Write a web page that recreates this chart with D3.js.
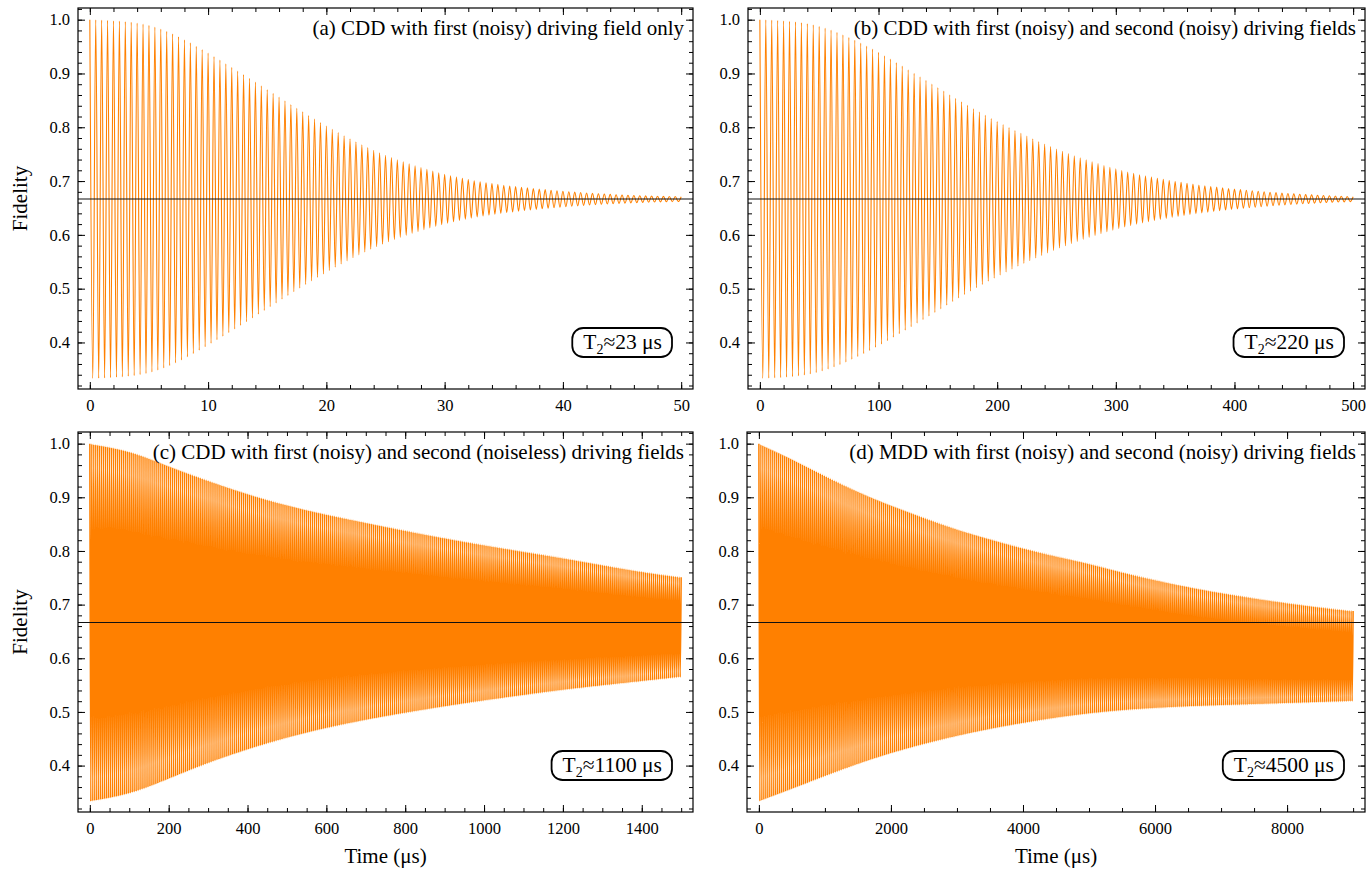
<!DOCTYPE html>
<html>
<head>
<meta charset="utf-8">
<script src="https://cdn.jsdelivr.net/npm/d3@7"></script>
<style>
    body { margin: 0; background: #fff; }
    text { font-family: "Liberation Serif", "DejaVu Serif", serif; fill: #000; }
</style>
</head>
<body>
<div id="chart"></div>
<script>
// ---- data ----
var titles = [
    "(a) CDD with first (noisy) driving field only",
    "(b) CDD with first (noisy) and second (noisy) driving fields",
    "(c) CDD with first (noisy) and second (noiseless) driving fields",
    "(d) MDD with first (noisy) and second (noisy) driving fields"
];
var t2Values = ["23", "220", "1100", "4500"];

// oscillation period and total time (μs) for each panel
var periods = [0.5, 5, 5, 30];
var durations = [50, 500, 1500, 9000];

// envelope of the oscillation (upper / lower turning points), evenly spaced in time
var envTimeA = [0, 2.5, 5, 7.5, 10, 12.5, 15, 17.5, 20, 22.5, 25, 27.5, 30, 32.5, 35, 37.5, 40, 42.5, 45, 47.5, 50];
var upperA = [1.000, 0.998, 0.992, 0.970, 0.938, 0.905, 0.870, 0.835, 0.802, 0.772, 0.747, 0.728, 0.712, 0.700, 0.692, 0.686, 0.681, 0.677, 0.674, 0.672, 0.671];
var lowerA = [0.333, 0.335, 0.341, 0.363, 0.395, 0.428, 0.463, 0.498, 0.531, 0.561, 0.586, 0.605, 0.621, 0.633, 0.641, 0.647, 0.652, 0.656, 0.659, 0.661, 0.662];

var envTimeB = [0, 25, 50, 75, 100, 125, 150, 175, 200, 225, 250, 275, 300, 325, 350, 375, 400, 425, 450, 475, 500];
var upperB = [1.000, 0.998, 0.990, 0.968, 0.940, 0.907, 0.874, 0.840, 0.810, 0.783, 0.759, 0.739, 0.722, 0.709, 0.699, 0.691, 0.685, 0.680, 0.676, 0.673, 0.671];
var lowerB = [0.333, 0.335, 0.343, 0.365, 0.393, 0.426, 0.459, 0.493, 0.523, 0.550, 0.574, 0.594, 0.611, 0.624, 0.634, 0.642, 0.648, 0.653, 0.657, 0.660, 0.662];

var envTimeC = [0, 100, 200, 300, 400, 500, 600, 700, 800, 900, 1000, 1100, 1200, 1300, 1400, 1500];
var upperC = [1.000, 0.988, 0.958, 0.931, 0.906, 0.885, 0.868, 0.853, 0.838, 0.824, 0.811, 0.799, 0.787, 0.774, 0.761, 0.751];
var lowerC = [0.333, 0.345, 0.375, 0.405, 0.430, 0.452, 0.470, 0.485, 0.498, 0.510, 0.521, 0.531, 0.541, 0.549, 0.557, 0.565];

var envTimeD = [0, 500, 1000, 1500, 2000, 2500, 3000, 3500, 4000, 4500, 5000, 5500, 6000, 6500, 7000, 7500, 8000, 8500, 9000];
var upperD = [1.000, 0.972, 0.940, 0.910, 0.885, 0.862, 0.840, 0.822, 0.805, 0.790, 0.777, 0.760, 0.746, 0.733, 0.722, 0.712, 0.703, 0.695, 0.688];
var lowerD = [0.333, 0.356, 0.380, 0.403, 0.423, 0.440, 0.455, 0.468, 0.479, 0.489, 0.497, 0.503, 0.507, 0.510, 0.512, 0.514, 0.516, 0.518, 0.520];

var steadyFidelity = 0.6667;

// tick labels
var xTicksA = [0, 10, 20, 30, 40, 50];
var xTicksB = [0, 100, 200, 300, 400, 500];
var xTicksC = [0, 200, 400, 600, 800, 1000, 1200, 1400];
var xTicksD = [0, 2000, 4000, 6000, 8000];
var yTicks = [0.4, 0.5, 0.6, 0.7, 0.8, 0.9, 1.0];

// ---- layout ----
var svgWidth = 1371;
var svgHeight = 869;

var svg = d3.select("#chart").append("svg")
    .attr("width", svgWidth)
    .attr("height", svgHeight);

var panels = [
    { left: 78, top: 8, width: 615, height: 381, xDomain: [-1, 51], minor: 2, ticks: xTicksA, env: [envTimeA, upperA, lowerA], lineWidth: 1.1, yLabel: true, xLabel: false },
    { left: 748, top: 8, width: 617, height: 381, xDomain: [-10, 510], minor: 20, ticks: xTicksB, env: [envTimeB, upperB, lowerB], lineWidth: 1.1, yLabel: false, xLabel: false },
    { left: 78, top: 432, width: 615, height: 380, xDomain: [-30, 1530], minor: 50, ticks: xTicksC, env: [envTimeC, upperC, lowerC], lineWidth: 1.5, yLabel: true, xLabel: true },
    { left: 747, top: 432, width: 618, height: 380, xDomain: [-180, 9180], minor: 500, ticks: xTicksD, env: [envTimeD, upperD, lowerD], lineWidth: 1.5, yLabel: false, xLabel: true }
];

var yDomain = [0.3135, 1.0217];
var majorLen = 7, minorLen = 4;

panels.forEach(function(p, i) {
    var g = svg.append("g").attr("transform", `translate(${p.left}, ${p.top})`);

    var xScale = d3.scaleLinear().domain(p.xDomain).range([0, p.width]);
    var yScale = d3.scaleLinear().domain(yDomain).range([p.height, 0]);

    // smooth envelope lookup along time
    var tMax = p.env[0][p.env[0].length - 1];
    var upCurve = d3.interpolateBasis(p.env[1]);
    var loCurve = d3.interpolateBasis(p.env[2]);

    // turning points of the oscillation: max, min, max, ...
    var half = periods[i] / 2;
    var n = Math.round(durations[i] / half);
    var turns = d3.range(n + 1).map(function(k) {
        var t = k * half;
        return { t: t, f: k % 2 === 0 ? upCurve(t / tMax) : loCurve(t / tMax) };
    });

    var line = d3.line()
        .x(d => xScale(d.t))
        .y(d => yScale(d.f))
        .curve(d3.curveMonotoneX);

    g.append("path")
        .datum(turns)
        .attr("d", line)
        .attr("fill", "none")
        .attr("stroke", "#ff8000")
        .attr("stroke-width", p.lineWidth);

    // 2/3 reference line
    g.append("line")
        .attr("x1", 0).attr("x2", p.width)
        .attr("y1", yScale(steadyFidelity)).attr("y2", yScale(steadyFidelity))
        .attr("stroke", "#111")
        .attr("stroke-width", 1.1);

    // ticks, all pointing inward
    var xMinor = d3.range(0, p.xDomain[1], p.minor).filter(v => v >= p.xDomain[0]);
    var yMinor = d3.range(16, 52).map(k => +(k * 0.02).toFixed(2));

    g.append("g").attr("class", "axis")
        .attr("transform", `translate(0, ${p.height})`)
        .call(d3.axisBottom(xScale).tickValues(p.ticks).tickSizeInner(-majorLen).tickSizeOuter(0).tickPadding(10).tickFormat(d3.format("d")));
    g.append("g").attr("class", "axis")
        .attr("transform", `translate(0, ${p.height})`)
        .call(d3.axisBottom(xScale).tickValues(xMinor).tickSizeInner(-minorLen).tickSizeOuter(0).tickFormat(""));
    g.append("g").attr("class", "axis")
        .call(d3.axisTop(xScale).tickValues(p.ticks).tickSizeInner(-majorLen).tickSizeOuter(0).tickFormat(""));
    g.append("g").attr("class", "axis")
        .call(d3.axisTop(xScale).tickValues(xMinor).tickSizeInner(-minorLen).tickSizeOuter(0).tickFormat(""));

    g.append("g").attr("class", "axis")
        .call(d3.axisLeft(yScale).tickValues(yTicks).tickSizeInner(-majorLen).tickSizeOuter(0).tickPadding(8).tickFormat(d3.format(".1f")));
    g.append("g").attr("class", "axis")
        .call(d3.axisLeft(yScale).tickValues(yMinor).tickSizeInner(-minorLen).tickSizeOuter(0).tickFormat(""));
    g.append("g").attr("class", "axis")
        .attr("transform", `translate(${p.width}, 0)`)
        .call(d3.axisRight(yScale).tickValues(yTicks).tickSizeInner(-majorLen).tickSizeOuter(0).tickFormat(""));
    g.append("g").attr("class", "axis")
        .attr("transform", `translate(${p.width}, 0)`)
        .call(d3.axisRight(yScale).tickValues(yMinor).tickSizeInner(-minorLen).tickSizeOuter(0).tickFormat(""));

    g.selectAll(".axis .domain").remove();
    g.selectAll(".axis line").attr("stroke", "#000").attr("stroke-width", 1);
    g.selectAll(".axis text")
        .attr("font-family", "Liberation Serif")
        .attr("font-size", "16.5px")
        .attr("fill", "#000");

    // frame
    g.append("rect")
        .attr("width", p.width)
        .attr("height", p.height)
        .attr("fill", "none")
        .attr("stroke", "#000")
        .attr("stroke-width", 1.2);

    // panel title
    g.append("text")
        .attr("x", p.width - 9)
        .attr("y", 27)
        .attr("text-anchor", "end")
        .attr("font-size", "21px")
        .text(titles[i]);

    // T2 box
    var t2 = g.append("text")
        .attr("x", p.width - 31)
        .attr("y", p.height - 40)
        .attr("text-anchor", "end")
        .attr("font-size", "21.5px");
    t2.append("tspan").text("T");
    t2.append("tspan").attr("font-size", "14px").attr("dy", 5).text("2");
    t2.append("tspan").attr("dy", -5).text("≈" + t2Values[i] + " μs");
    var bb = t2.node().getBBox();
    g.insert("rect", function() { return t2.node(); })
        .attr("x", bb.x - 11)
        .attr("y", p.height - 61)
        .attr("width", bb.width + 21)
        .attr("height", 29)
        .attr("rx", 11)
        .attr("fill", "#fff")
        .attr("stroke", "#000")
        .attr("stroke-width", 1.8);

    if (p.yLabel) {
        svg.append("text")
            .attr("transform", `translate(27, ${p.top + p.height / 2}) rotate(-90)`)
            .attr("text-anchor", "middle")
            .attr("font-size", "21px")
            .text("Fidelity");
    }
    if (p.xLabel) {
        svg.append("text")
            .attr("x", p.left + p.width / 2)
            .attr("y", 863)
            .attr("text-anchor", "middle")
            .attr("font-size", "21px")
            .text("Time (μs)");
    }
});
</script>
</body>
</html>
